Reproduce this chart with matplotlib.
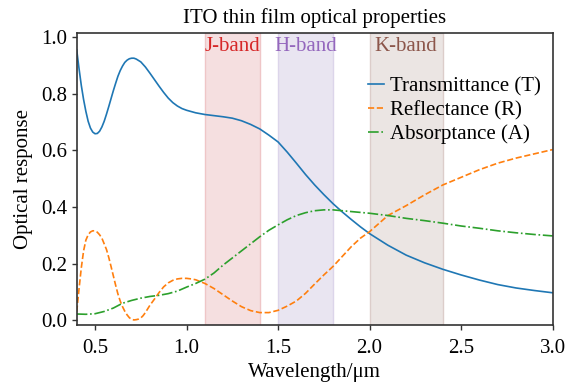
import matplotlib
matplotlib.use("Agg")
import matplotlib.pyplot as plt
import matplotlib.transforms as mtransforms

plt.rcParams['font.family'] = ['Liberation Serif', 'DejaVu Serif']
plt.rcParams['font.size'] = 15

# Wavelength (um) and curves
wl_T = [0.40, 0.4125, 0.425, 0.4375, 0.45, 0.4625, 0.475, 0.4875, 0.50, 0.5125, 0.525, 0.5375,
        0.55, 0.5625, 0.575, 0.5875, 0.60, 0.6125, 0.625, 0.6375, 0.65, 0.6625, 0.675, 0.6875,
        0.70, 0.7125, 0.725, 0.7375, 0.75, 0.775, 0.80, 0.825, 0.85, 0.875, 0.90, 0.925, 0.95,
        0.975, 1.00, 1.05, 1.10, 1.15, 1.20, 1.25, 1.30, 1.35, 1.40, 1.45, 1.50, 1.55, 1.60,
        1.65, 1.70, 1.75, 1.80, 1.85, 1.90, 1.95, 2.00, 2.10, 2.20, 2.30, 2.40, 2.50,
        2.60, 2.70, 2.80, 2.90, 3.00]
transmittance = [0.955, 0.89, 0.83, 0.78, 0.738, 0.703, 0.679, 0.665, 0.659, 0.66, 0.668, 0.683,
                 0.703, 0.728, 0.755, 0.783, 0.811, 0.837, 0.862, 0.882, 0.898, 0.911, 0.919, 0.924,
                 0.926, 0.926, 0.923, 0.918, 0.913, 0.895, 0.873, 0.85, 0.827, 0.805, 0.785, 0.769, 0.757,
                 0.748, 0.742, 0.733, 0.727, 0.723, 0.719, 0.714, 0.705, 0.692, 0.676, 0.654, 0.63, 0.594, 0.555,
                 0.515, 0.478, 0.444, 0.412, 0.383, 0.356, 0.33, 0.306, 0.265, 0.23, 0.203, 0.18, 0.16,
                 0.142, 0.126, 0.114, 0.105, 0.097]

wl_R = [0.40, 0.4125, 0.425, 0.4375, 0.45, 0.4625, 0.475, 0.4875, 0.50, 0.5125, 0.525, 0.5375,
        0.55, 0.5625, 0.575, 0.5875, 0.60, 0.6125, 0.625, 0.6375, 0.65, 0.6625, 0.675, 0.6875,
        0.70, 0.7125, 0.725, 0.7375, 0.75, 0.7625, 0.775, 0.7875, 0.80, 0.825, 0.85, 0.875,
        0.90, 0.925, 0.95, 0.975, 1.00, 1.025, 1.05, 1.10, 1.15, 1.20, 1.25, 1.30, 1.35, 1.40,
        1.45, 1.50, 1.55, 1.60, 1.65, 1.70, 1.75, 1.80, 1.85, 1.90, 1.95, 2.00, 2.10, 2.20,
        2.30, 2.40, 2.50, 2.60, 2.70, 2.80, 2.90, 3.00]
reflectance = [0.03, 0.11, 0.185, 0.245, 0.283, 0.302, 0.312, 0.316, 0.316, 0.311, 0.302, 0.29,
               0.27, 0.25, 0.222, 0.19, 0.157, 0.124, 0.093, 0.068, 0.048, 0.032, 0.019, 0.009,
               0.003, 0.001, 0.002, 0.004, 0.008, 0.016, 0.027, 0.04, 0.053, 0.075, 0.098, 0.118,
               0.132, 0.141, 0.146, 0.148, 0.148, 0.146, 0.143, 0.13, 0.112, 0.09, 0.068, 0.048, 0.034, 0.027,
               0.027, 0.035, 0.05, 0.068, 0.095, 0.128, 0.16, 0.19, 0.225, 0.26, 0.29, 0.313, 0.37, 0.405,
               0.443, 0.478, 0.505, 0.532, 0.555, 0.573, 0.588, 0.603]

wl_A = [0.40, 0.45, 0.50, 0.55, 0.60, 0.65, 0.70, 0.75, 0.80, 0.85, 0.90, 0.95, 1.00, 1.05,
        1.10, 1.15, 1.20, 1.25, 1.30, 1.35, 1.40, 1.45, 1.50, 1.55, 1.60, 1.65, 1.70, 1.75,
        1.80, 1.85, 1.90, 1.95, 2.00, 2.10, 2.20, 2.30, 2.40, 2.50, 2.60, 2.70, 2.80, 2.90, 3.00]
absorptance = [0.022, 0.021, 0.023, 0.031, 0.043, 0.06, 0.07, 0.078, 0.084, 0.088, 0.094, 0.103, 0.117, 0.13,
               0.145, 0.167, 0.195, 0.22, 0.245, 0.27, 0.295, 0.318, 0.337, 0.355, 0.37, 0.38, 0.387, 0.39,
               0.39, 0.387, 0.384, 0.381, 0.378, 0.37, 0.36, 0.352, 0.343, 0.333, 0.325, 0.316, 0.309, 0.303, 0.298]

band_names = ["J-band", "H-band", "K-band"]
band_ranges = [(1.1, 1.4), (1.5, 1.8), (2.0, 2.4)]
band_text_colors = ["#d62728", "#9467bd", "#8c564b"]
band_fills = ["#f5dfe0", "#e9e5f1", "#ebe5e3"]
band_edges = ["#efc6c7", "#dcd5ea", "#dccdca"]

fig = plt.figure(figsize=(5.79, 3.85), dpi=100)
ax = fig.add_axes([0.1325, 0.155, 0.822, 0.760])

trans = mtransforms.blended_transform_factory(ax.transData, ax.transAxes)
for name, (lo, hi), tc, fc, ec in zip(band_names, band_ranges, band_text_colors, band_fills, band_edges):
    ax.axvspan(lo, hi, facecolor=fc, edgecolor=ec, lw=1.0, zorder=0)
    ax.text((lo + hi) / 2, 0.952, name, color=tc, ha='center', va='center',
            transform=trans, fontsize=15)

ax.plot(wl_T, transmittance, color='#1f77b4', lw=1.2, label='Transmittance (T)')
ax.plot(wl_R, reflectance, color='#ff7f0e', lw=1.2, ls='--', label='Reflectance (R)')
ax.plot(wl_A, absorptance, color='#2ca02c', lw=1.2, ls='-.', label='Absorptance (A)')

ax.set_xlim(0.4, 3.0)
ax.set_ylim(-0.018, 1.016)
ax.set_xticks([0.5, 1.0, 1.5, 2.0, 2.5, 3.0])
ax.set_yticks([0.0, 0.2, 0.4, 0.6, 0.8, 1.0])
ax.tick_params(direction='out', length=3.5, width=1.0, color='#333333', labelsize=15)
ax.tick_params(axis='x', pad=6)
for s in ax.spines.values():
    s.set_color('#333333')
    s.set_linewidth(1.2)

ax.set_xlabel('Wavelength/μm', fontsize=15, labelpad=4)
ax.set_ylabel('Optical response', fontsize=15, labelpad=6)
ax.set_title('ITO thin film optical properties', fontsize=15, pad=7)

leg = ax.legend(loc='upper left', bbox_to_anchor=(0.611, 0.848), frameon=False,
                handlelength=0.8, handletextpad=0.3, labelspacing=0.2,
                borderpad=0, borderaxespad=0, fontsize=15)

fig.savefig('out.png', dpi=100)
